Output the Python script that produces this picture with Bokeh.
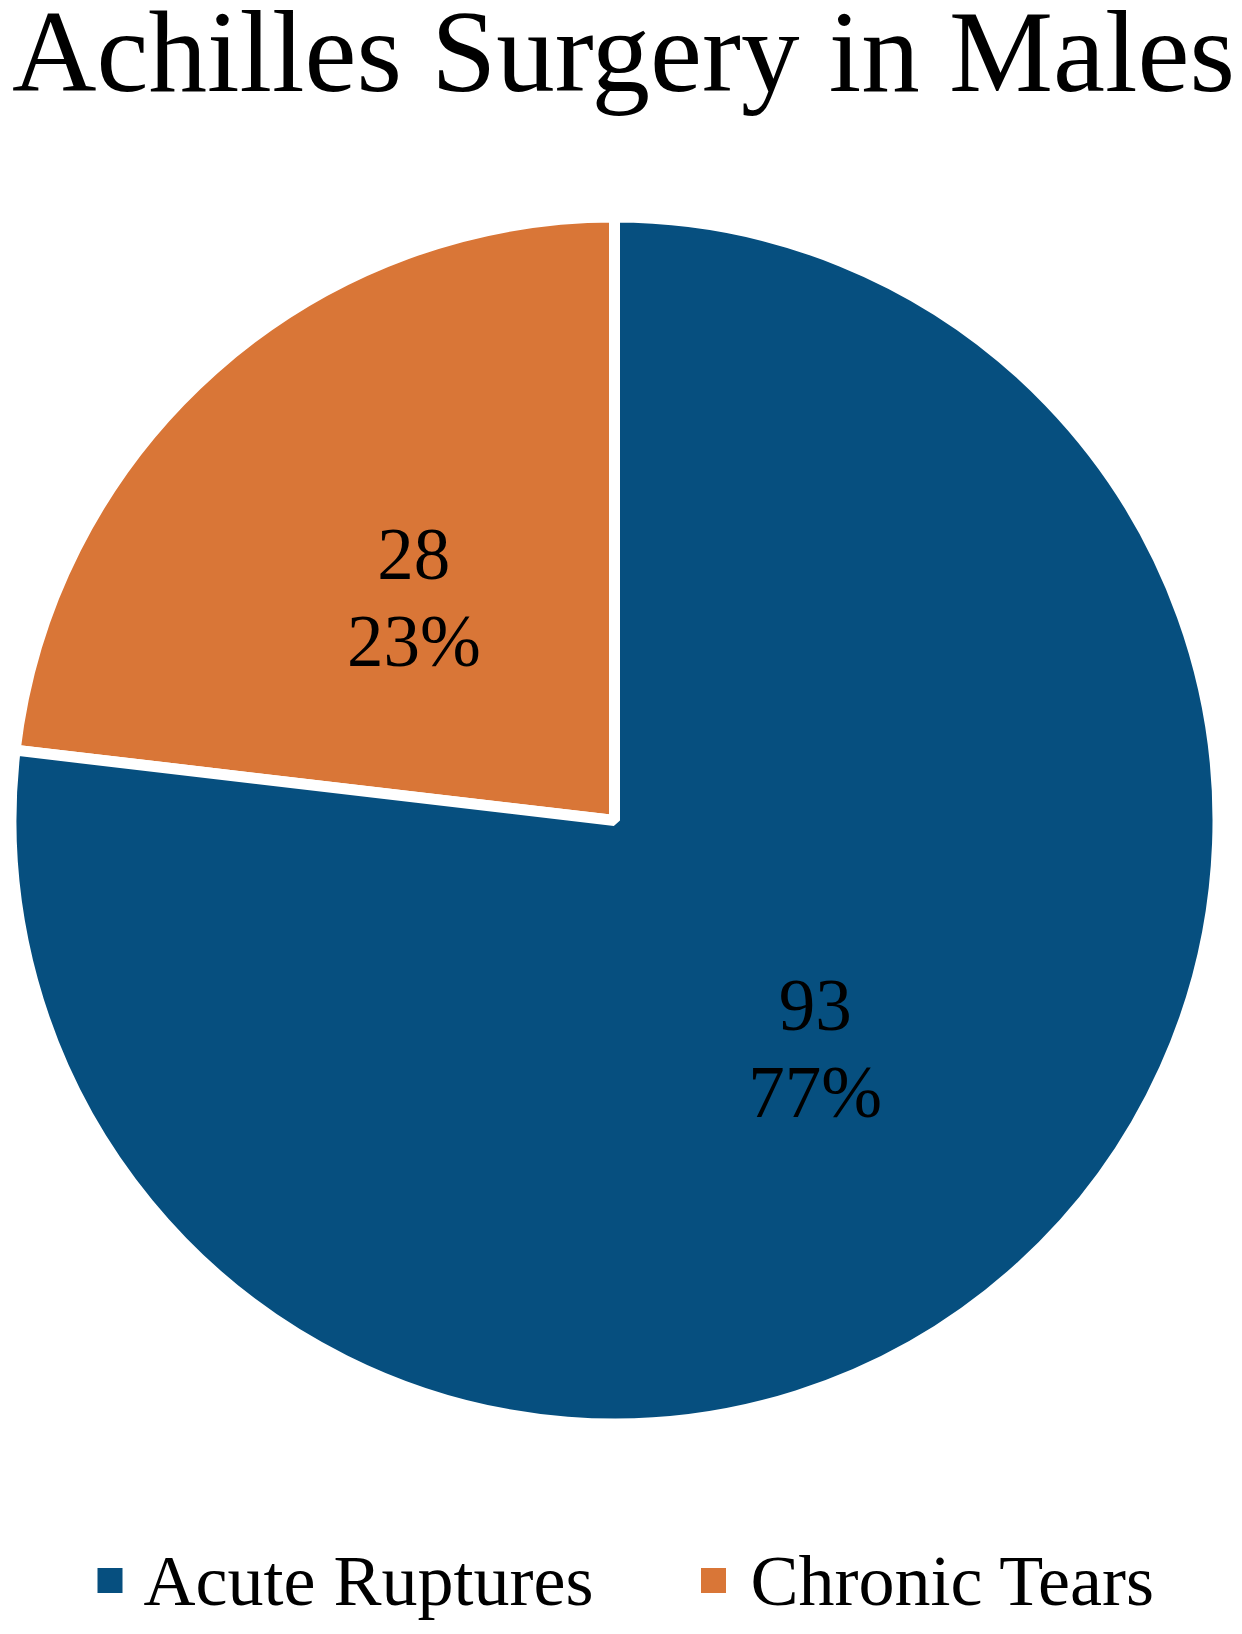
import math
from bokeh.plotting import figure
from bokeh.models import Range1d, ColumnDataSource
from bokeh.core.properties import value
from bokeh.embed import file_html
from bokeh.resources import INLINE

# ---- data ----
title_text = "Achilles Surgery in Males"
categories = ["Acute Ruptures", "Chronic Tears"]
counts = [93, 28]
colors = ["#064f7f", "#d97637"]

# ---- layout (screen pixels of the 1242x1634 page, y measured downward) ----
W, H = 1240, 1630
PAGE_H = 1634
FONT = value("Liberation Serif")

def sy(y):  # screen y -> data y
    return PAGE_H - y

p = figure(width=W, height=H, output_backend="svg", toolbar_location=None,
           x_range=Range1d(0, W), y_range=Range1d(PAGE_H - H, PAGE_H),
           min_border=0)
p.axis.visible = False
p.grid.visible = False
p.outline_line_color = None
p.background_fill_color = "white"
p.border_fill_color = "white"

# ---- pie ----
cx, cy, R = 614, sy(820), 598
gap = 11
total = sum(counts)
# Chronic Tears starts at 12 o'clock going counter-clockwise, then Acute Ruptures
order = [1, 0]
start = math.pi / 2
starts, ends, mids, fills, labels = [], [], [], [], []
for i in order:
    span = 2 * math.pi * counts[i] / total
    starts.append(start)
    ends.append(start + span)
    mids.append(start + span / 2)
    fills.append(colors[i])
    pct = round(100 * counts[i] / total)
    labels.append(f"{counts[i]}\n{pct}%")
    start += span

src = ColumnDataSource(dict(start=starts, end=ends, color=fills))
p.wedge(x=cx, y=cy, radius=R + gap / 2, start_angle="start", end_angle="end",
        direction="anticlock", fill_color="color", line_color="white",
        line_width=gap, source=src)

lr = 0.505 * R
lx = [cx + lr * math.cos(a) for a in mids]
ly = [cy + lr * math.sin(a) - 3 for a in mids]
p.text(x=lx, y=ly, text=labels, text_font=FONT, text_font_size="73px",
       text_align="center", text_baseline="middle", text_line_height=1.07,
       text_color="black")

# ---- title ----
p.text(x=[623], y=[sy(51)], text=[title_text], text_font=FONT,
       text_font_size="117px", text_align="center", text_baseline="middle",
       text_color="black")

# ---- legend ----
leg_sq_x = [109.5, 713]
leg_tx_x = [143, 750]
p.scatter(x=leg_sq_x, y=[sy(1580)] * 2, marker="square", size=25,
          fill_color=colors, line_color=None)
p.text(x=leg_tx_x, y=[sy(1580)] * 2, text=categories, text_font=FONT,
       text_font_size="72px", text_align="left", text_baseline="middle",
       text_color="black")

open("out.html", "w").write(file_html(p, INLINE))
